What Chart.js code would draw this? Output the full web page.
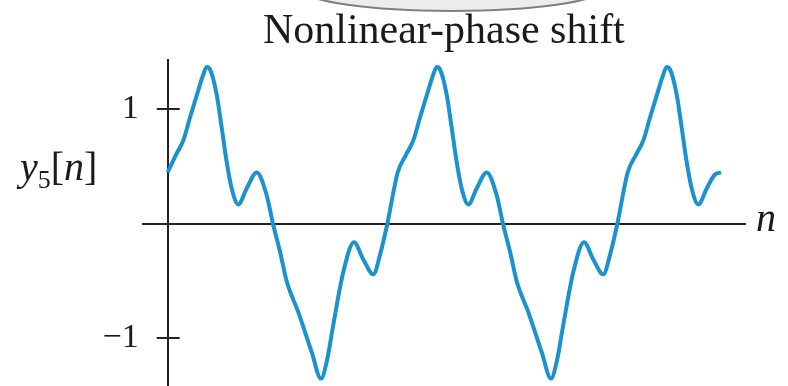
<!DOCTYPE html>
<html>
<head>
<meta charset="utf-8">
<title>Nonlinear-phase shift</title>
<script src="https://cdn.jsdelivr.net/npm/chart.js@4.4.1/dist/chart.umd.min.js"></script>
<style>
  html, body { margin: 0; padding: 0; background: #fff; }
  canvas { display: block; }
</style>
</head>
<body>
<canvas id="chart" width="788" height="386"></canvas>
<script>
const titleText = 'Nonlinear-phase shift';
const yTickValues = [1, -1];
const yTickLabels = ['1', '\u22121'];

// positions along n (peaks, dips and points between)
const nValues = [
  0, 0.8, 1.56, 2.23, 3.0, 3.5, 3.9, 4.23, 4.9, 5.4, 5.9, 6.4, 7.06, 7.9, 8.9,
  9.9, 10.53, 11.23, 11.9, 13.06, 14.4, 15.33, 15.93, 16.56, 17.56, 18.63, 19.56, 20.56, 21.23, 21.96,
  23, 23.8, 24.56, 25.23, 26.0, 26.5, 26.9, 27.23, 27.9, 28.4, 28.9, 29.4, 30.06, 30.9, 31.9,
  32.9, 33.53, 34.23, 34.9, 36.06, 37.4, 38.33, 38.93, 39.56, 40.56, 41.63, 42.56, 43.56, 44.23, 44.96,
  46, 46.8, 47.56, 48.23, 49.0, 49.5, 49.9, 50.23, 50.9, 51.4, 51.9, 52.4, 53.06, 53.9, 54.7, 55.33
];
// y5[n] at those positions
const yValues = [
  0.45, 0.6, 0.73, 0.93, 1.15, 1.29, 1.37, 1.35, 1.13, 0.84, 0.54, 0.31, 0.17, 0.31, 0.45,
  0.25, 0, -0.24, -0.5, -0.77, -1.12, -1.35, -1.19, -0.88, -0.42, -0.16, -0.31, -0.44, -0.27, 0,
  0.45, 0.6, 0.73, 0.93, 1.15, 1.29, 1.37, 1.35, 1.13, 0.84, 0.54, 0.31, 0.17, 0.31, 0.45,
  0.25, 0, -0.24, -0.5, -0.77, -1.12, -1.35, -1.19, -0.88, -0.42, -0.16, -0.31, -0.44, -0.27, 0,
  0.45, 0.6, 0.73, 0.93, 1.15, 1.29, 1.37, 1.35, 1.13, 0.84, 0.54, 0.31, 0.17, 0.31, 0.43, 0.45
];

const serif = "'Liberation Serif', 'Times New Roman', serif";
const textColor = '#1a1a1a';
const axisColor = '#222';
const lineColor = '#1b92d0';
const yMin = -1.415, yMax = 1.432;

// tick marks that cross the y-axis, axis names and the grey arc at the top
const extras = {
  id: 'extras',
  afterDraw(chart) {
    const ctx = chart.ctx;
    const xs = chart.scales.x, ys = chart.scales.yLab;
    const ax = xs.getPixelForValue(0);
    ctx.save();
    ctx.strokeStyle = axisColor;
    ctx.lineWidth = 2;
    ys.ticks.forEach(t => {
      const py = Math.round(ys.getPixelForValue(t.value));
      ctx.beginPath();
      ctx.moveTo(ax - 11, py);
      ctx.lineTo(ax + 12, py);
      ctx.stroke();
    });

    // y5[n]
    ctx.fillStyle = textColor;
    ctx.textBaseline = 'alphabetic';
    const parts = [
      ['italic 40px ' + serif, 'y', 0],
      ['26px ' + serif, '5', 8],
      ['40px ' + serif, '[', 0],
      ['italic 40px ' + serif, 'n', 0],
      ['40px ' + serif, ']', 0]
    ];
    let x = 20;
    parts.forEach(p => {
      ctx.font = p[0];
      ctx.fillText(p[1], x, 180 + p[2]);
      x += ctx.measureText(p[1]).width;
    });
    ctx.font = 'italic 40px ' + serif;
    ctx.fillText('n', 756, 231);

    // arc from the page above the figure
    ctx.beginPath();
    ctx.ellipse(452, -11, 150, 22, 0, 0, Math.PI);
    ctx.fillStyle = '#ededed';
    ctx.fill();
    ctx.strokeStyle = '#808080';
    ctx.lineWidth = 2;
    ctx.stroke();
    ctx.restore();
  }
};

const points = nValues.map((n, i) => ({ x: n, y: yValues[i] }));

new Chart(document.getElementById('chart'), {
  type: 'line',
  data: {
    datasets: [{
      data: points,
      borderColor: lineColor,
      borderWidth: 4,
      pointRadius: 0,
      fill: false,
      cubicInterpolationMode: 'monotone'
    }]
  },
  options: {
    responsive: false,
    animation: false,
    layout: { padding: { left: 102.7, right: 43, top: 0, bottom: 0 } },
    plugins: {
      legend: { display: false },
      tooltip: { enabled: false },
      title: {
        display: true,
        text: titleText,
        fullSize: false,
        color: textColor,
        font: { family: serif, size: 42, weight: 'normal' },
        padding: { top: 7.1, bottom: 2.5 }
      }
    },
    scales: {
      x: {
        type: 'linear',
        min: -2.5,
        max: 57.73,
        position: { y: 0 },
        grid: { display: false, drawTicks: false },
        ticks: { display: false },
        border: { color: axisColor, width: 2 }
      },
      y: {
        type: 'linear',
        min: yMin,
        max: yMax,
        position: { x: 0 },
        grid: { display: false, drawTicks: false },
        ticks: { display: false },
        border: { color: axisColor, width: 2 }
      },
      yLab: {
        type: 'linear',
        min: yMin,
        max: yMax,
        position: 'left',
        grid: { display: false, drawTicks: false },
        border: { display: false },
        afterBuildTicks: axis => { axis.ticks = yTickValues.map(v => ({ value: v })); },
        afterFit: axis => { axis.width = 40; axis.paddingTop = 0; axis.paddingBottom = 0; },
        ticks: {
          padding: 4,
          color: textColor,
          font: { family: serif, size: 34 },
          callback: v => yTickLabels[yTickValues.indexOf(v)]
        }
      }
    }
  },
  plugins: [extras]
});
</script>
</body>
</html>
